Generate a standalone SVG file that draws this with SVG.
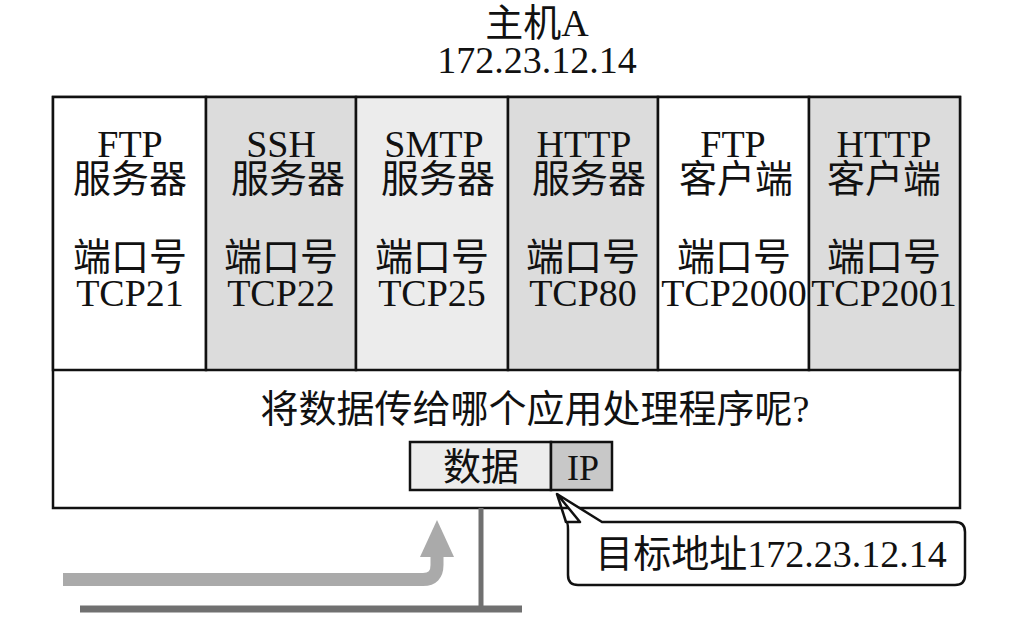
<svg xmlns="http://www.w3.org/2000/svg" width="1024" height="617" viewBox="0 0 1024 617">
<style>
text{font-family:"Liberation Serif","Noto Sans CJK SC",serif;fill:#111;text-anchor:middle;font-size:38px}
.cell{stroke:#111;stroke-width:2.5}
.box{fill:#fff;stroke:#111;stroke-width:2.5}
</style>
<rect width="1024" height="617" fill="#fff"/>
<g id="title">
<text x="537" y="36">主机A</text>
<text x="537" y="73">172.23.12.14</text>
</g>
<g id="host">
<rect class="box" x="53" y="97" width="907" height="411"/>
<text x="535" y="422">将数据传给哪个应用处理程序呢?</text>
</g>
<g id="ftp-server">
<rect class="cell" x="53" y="97" width="153" height="273" fill="#fff"/>
<text x="130" y="157">FTP</text><text x="130" y="192">服务器</text>
<text x="130" y="270">端口号</text><text x="130" y="306">TCP21</text>
</g>
<g id="ssh-server">
<rect class="cell" x="206" y="97" width="150" height="273" fill="#dcdcdc"/>
<text x="281" y="157">SSH</text><text x="288" y="192">服务器</text>
<text x="281" y="270">端口号</text><text x="281" y="306">TCP22</text>
</g>
<g id="smtp-server">
<rect class="cell" x="356" y="97" width="152" height="273" fill="#ececec"/>
<text x="434" y="157">SMTP</text><text x="438" y="192">服务器</text>
<text x="432" y="270">端口号</text><text x="432" y="306">TCP25</text>
</g>
<g id="http-server">
<rect class="cell" x="508" y="97" width="150" height="273" fill="#dcdcdc"/>
<text x="584" y="157">HTTP</text><text x="589" y="192">服务器</text>
<text x="583" y="270">端口号</text><text x="583" y="306">TCP80</text>
</g>
<g id="ftp-client">
<rect class="cell" x="658" y="97" width="151" height="273" fill="#fff"/>
<text x="733" y="157">FTP</text><text x="736" y="192">客户端</text>
<text x="734" y="270">端口号</text><text x="734" y="306">TCP2000</text>
</g>
<g id="http-client">
<rect class="cell" x="809" y="97" width="151" height="273" fill="#dcdcdc"/>
<text x="884" y="157">HTTP</text><text x="884" y="192">客户端</text>
<text x="884" y="270">端口号</text><text x="884" y="306">TCP2001</text>
</g>
<g id="packet">
<rect class="cell" x="410" y="442" width="141" height="48" fill="#ececec"/>
<rect class="cell" x="551" y="442" width="61" height="48" fill="#c8c8c8"/>
<text x="481" y="480">数据</text>
<text x="583" y="480" style="font-size:36px">IP</text>
</g>
<g id="callout">
<path d="M580,522 L566,522 Q568,522 568,530 L568,575 Q568,585 578,585 L955,585 Q965,585 965,575 L965,532 Q965,522 955,522 L602,522 L557,494 Z" fill="#fff" stroke="#111" stroke-width="2.5" stroke-linejoin="round"/>
<path d="M557,494 L566,522" fill="none" stroke="#111" stroke-width="2.5"/>
<text x="771" y="567">目标地址172.23.12.14</text>
</g>
<g id="connectors">
<line x1="481" y1="508" x2="481" y2="609" stroke="#707070" stroke-width="5"/>
<line x1="80" y1="609" x2="522" y2="609" stroke="#707070" stroke-width="7"/>
<path d="M63,579.5 L423,579.5 Q437,579.5 437,565 L437,555" fill="none" stroke="#aaaaaa" stroke-width="13"/>
<polygon points="420,557 454,557 437,520" fill="#aaaaaa"/>
</g>
</svg>
